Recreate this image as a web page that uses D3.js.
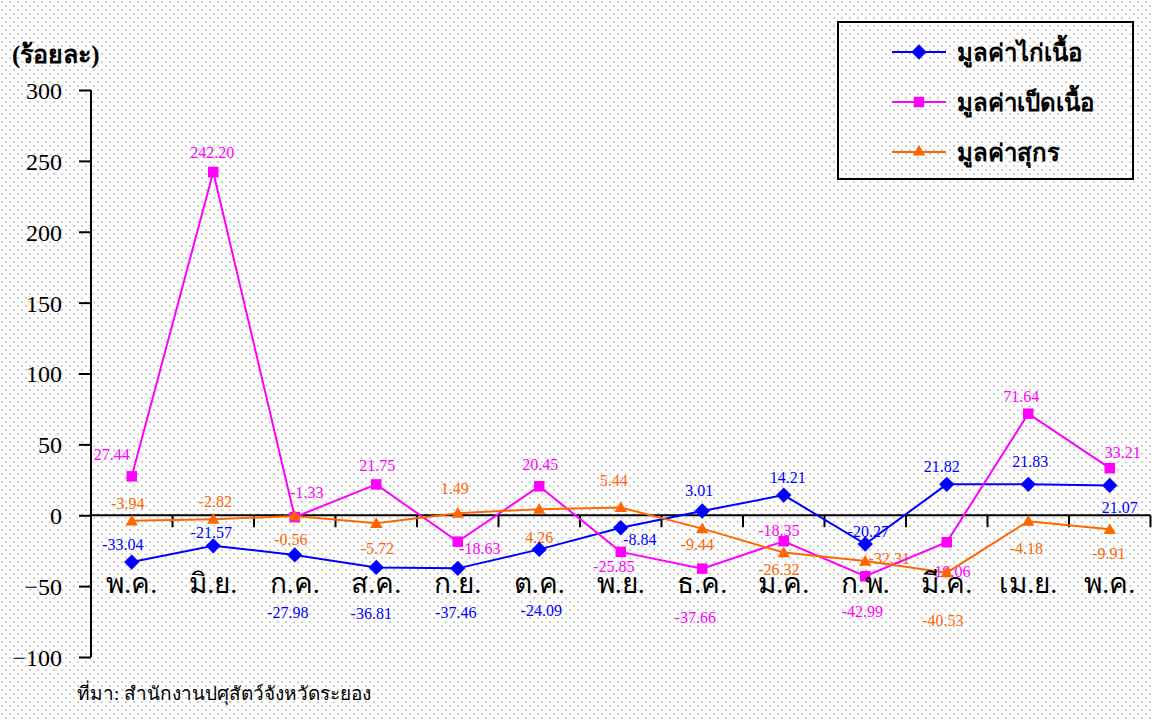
<!DOCTYPE html>
<html lang="th">
<head>
<meta charset="UTF-8">
<title>มูลค่าไก่เนื้อ เป็ดเนื้อ สุกร</title>
<script src="https://d3js.org/d3.v7.min.js"></script>
<style>
  body { margin: 0; background: #fff; }
  text { font-family: "Liberation Serif", "DejaVu Serif", serif; }
  .month { font-size: 28px; fill: #000; }
  .lbl { font-size: 16px; }
  .legend-text { font-size: 24px; font-weight: bold; fill: #000; }
</style>
</head>
<body>
<svg id="chart"></svg>
<script>

const months = ['พ.ค.', 'มิ.ย.', 'ก.ค.', 'ส.ค.', 'ก.ย.', 'ต.ค.', 'พ.ย.', 'ธ.ค.', 'ม.ค.', 'ก.พ.', 'มี.ค.', 'เม.ย.', 'พ.ค.'];
const chicken = [-33.04, -21.57, -27.98, -36.81, -37.46, -24.09, -8.84, 3.01, 14.21, -20.27, 21.82, 21.83, 21.07];
const duck = [27.44, 242.20, -1.33, 21.75, -18.63, 20.45, -25.85, -37.66, -18.35, -42.99, -19.06, 71.64, 33.21];
const pork = [-3.94, -2.82, -0.56, -5.72, 1.49, 4.26, 5.44, -9.44, -26.32, -32.31, -40.53, -4.18, -9.91];
const yTicks = [300, 250, 200, 150, 100, 50, 0, -50, -100];

// label nudges (label centre relative to point), layout only
const chickenNudge = [[-9,-18],[-2,-13],[-7,58],[-5,46],[-2,44],[2,61],[19,12],[-3,-20],[4,-18],[3,-12],[-5,-18],[2,-23],[10,22]];
const duckNudge = [[-20,-22],[-1,-19],[12,-25],[1,-19],[22,7],[1,-22],[-7,15],[-7,49],[-5,-11],[-3,35],[3,29],[-7,-17],[13,-16]];
const porkNudge = [[-4,-17],[2,-18],[-4,23],[1,25],[-3,-25],[0,28],[-7,-27],[-5,16],[-5,17],[24,-3],[-4,48],[-2,27],[-1,24]];

const series = [
  {name: 'มูลค่าไก่เนื้อ', values: chicken, color: '#0000ff', shape: 'diamond', nudge: chickenNudge},
  {name: 'มูลค่าเป็ดเนื้อ', values: duck, color: '#ff00ff', shape: 'square', nudge: duckNudge},
  {name: 'มูลค่าสุกร', values: pork, color: '#ff6600', shape: 'triangle', nudge: porkNudge}
];

const size = {width: 1152, height: 720};
const svg = d3.select('#chart')
              .attr('width', size.width)
              .attr('height', size.height);

// dotted background
const defs = svg.append('defs');
const pat = defs.append('pattern')
    .attr('id', 'dots')
    .attr('width', 8).attr('height', 8)
    .attr('patternUnits', 'userSpaceOnUse');
pat.append('circle').attr('cx', 2).attr('cy', 2).attr('r', 1.1).attr('fill', '#c4c4c4');
pat.append('circle').attr('cx', 6).attr('cy', 6).attr('r', 1.1).attr('fill', '#c4c4c4');
svg.append('rect').attr('width', size.width).attr('height', size.height).attr('fill', '#fff');
svg.append('rect').attr('width', size.width).attr('height', size.height).attr('fill', 'url(#dots)');

const xScale = d3.scaleBand()
                 .domain(d3.range(months.length))
                 .range([91, 1150.5])
                 .padding(0);
const yScale = d3.scaleLinear()
                 .domain([-100, 300])
                 .range([657, 90]);
const cx = function(i) { return xScale(i) + xScale.bandwidth() / 2; };
const y0 = yScale(0);

// y axis
const yAxis = d3.axisLeft(yScale).tickValues(yTicks).tickSize(12).tickFormat(d3.format('d'));
const gy = svg.append('g')
    .attr('transform', 'translate(91,0)')
    .call(yAxis)
    .attr('font-family', '"Liberation Serif", serif')
    .attr('font-size', 24);
gy.select('.domain').attr('stroke', '#000').attr('stroke-width', 2).attr('d', 'M0,' + yScale(300) + 'V' + yScale(-100));
gy.selectAll('.tick line').attr('stroke', '#000').attr('stroke-width', 2);
gy.selectAll('.tick text')
  .attr('x', -29)
  .attr('dy', '0.35em')
  .attr('fill', '#000');

// x axis along zero
const gx = svg.append('g').attr('class', 'axis-x');
gx.append('line')
  .attr('x1', 91).attr('x2', xScale.range()[1])
  .attr('y1', y0).attr('y2', y0)
  .attr('stroke', '#000').attr('stroke-width', 2);
gx.selectAll('.xtick')
  .data(d3.range(1, months.length + 1))
  .enter().append('line')
  .attr('x1', function(d) { return 91 + d * xScale.step(); })
  .attr('x2', function(d) { return 91 + d * xScale.step(); })
  .attr('y1', y0).attr('y2', y0 + 12)
  .attr('stroke', '#000').attr('stroke-width', 2);

// data labels (drawn under the marks)
series.forEach(function(s) {
  svg.append('g').selectAll('text')
    .data(s.values)
    .enter().append('text')
    .attr('class', 'lbl')
    .attr('fill', s.color)
    .attr('text-anchor', 'middle')
    .attr('dominant-baseline', 'central')
    .attr('x', function(d, i) { return cx(i) + s.nudge[i][0]; })
    .attr('y', function(d, i) { return yScale(d) + s.nudge[i][1]; })
    .text(function(d) { return d.toFixed(2); });
});

// lines and markers
const line = d3.line()
               .x(function(d, i) { return cx(i); })
               .y(function(d) { return yScale(d); });
const symbolOf = {
  diamond: d3.symbol().type(d3.symbolDiamond2).size(150),
  square: d3.symbol().type(d3.symbolSquare).size(110),
  triangle: d3.symbol().type(d3.symbolTriangle2).size(110)
};
series.forEach(function(s) {
  svg.append('path')
     .datum(s.values)
     .attr('fill', 'none')
     .attr('stroke', s.color)
     .attr('stroke-width', 2)
     .attr('d', line);
  svg.append('g').selectAll('path')
     .data(s.values)
     .enter().append('path')
     .attr('d', symbolOf[s.shape])
     .attr('fill', s.color)
     .attr('transform', function(d, i) {
       return 'translate(' + cx(i) + ',' + (yScale(d) + (s.shape === 'triangle' ? 1 : 0)) + ')';
     });
});

// month labels
svg.append('g').selectAll('text')
   .data(months)
   .enter().append('text')
   .attr('class', 'month')
   .attr('text-anchor', 'middle')
   .attr('x', function(d, i) { return cx(i); })
   .attr('y', 593)
   .text(function(d) { return d; });

// unit title
svg.append('text')
   .attr('x', 12).attr('y', 63)
   .style('font-size', '25px').style('font-weight', 'bold')
   .text('(ร้อยละ)');

// source
svg.append('text')
   .attr('x', 77).attr('y', 700)
   .style('font-size', '19px')
   .text('ที่มา: สำนักงานปศุสัตว์จังหวัดระยอง');

// legend
const legend = svg.append('g');
legend.append('rect')
      .attr('x', 838).attr('y', 22)
      .attr('width', 295).attr('height', 157)
      .attr('fill', 'none').attr('stroke', '#000').attr('stroke-width', 2);
const legendY = d3.scalePoint().domain(series.map(function(s) { return s.name; })).range([52, 152]);
series.forEach(function(s) {
  const ly = legendY(s.name);
  legend.append('line')
        .attr('x1', 892).attr('x2', 946)
        .attr('y1', ly).attr('y2', ly)
        .attr('stroke', s.color).attr('stroke-width', 2);
  legend.append('path')
        .attr('d', symbolOf[s.shape])
        .attr('fill', s.color)
        .attr('transform', 'translate(919,' + ly + ')');
  legend.append('text')
        .attr('class', 'legend-text')
        .attr('x', 957).attr('y', ly + 9)
        .text(s.name);
});

</script>
</body>
</html>
